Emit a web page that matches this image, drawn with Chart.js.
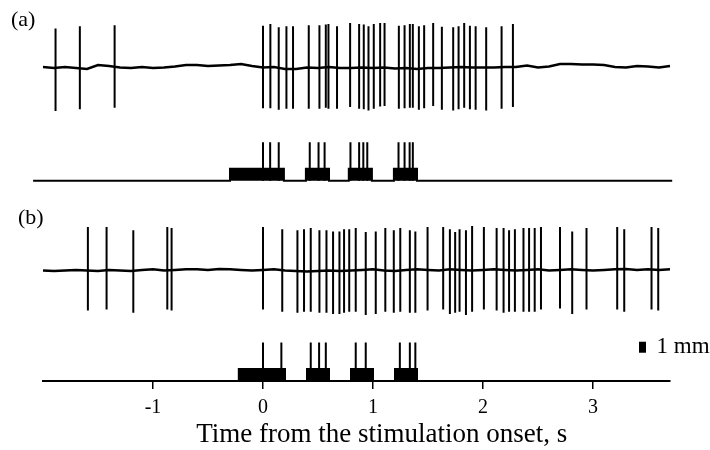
<!DOCTYPE html>
<html>
<head>
<meta charset="utf-8">
<script src="https://cdn.jsdelivr.net/npm/chart.js@4.4.0/dist/chart.umd.min.js"></script>
<style>
html, body { margin: 0; padding: 0; background: #fff; }
#wrap { width: 710px; height: 450px; }
</style>
</head>
<body>
<div id="wrap"><canvas id="spikeChart" width="710" height="450"></canvas></div>
<script>
// Time axis, s
const xTicks = [-1, 0, 1, 2, 3];
const xTitle = 'Time from the stimulation onset, s';

// Panel (a): spike times (s) and spike heights above / below the trace (mm)
const spikeTimesA = [-1.886, -1.665, -1.349, 0.0, 0.067, 0.143, 0.213, 0.273, 0.416, 0.513, 0.571, 0.595,
    0.673, 0.792, 0.874, 0.916, 0.959, 1.007, 1.065, 1.105, 1.235, 1.287, 1.335, 1.362, 1.417, 1.465,
    1.547, 1.626, 1.729, 1.778, 1.829, 1.881, 1.933, 2.029, 2.169, 2.272];
const spikeUpA = [3.5, 3.7, 3.8, 3.75, 3.9, 3.6, 3.7, 3.7, 3.8, 3.8, 3.85, 3.9, 3.7, 4.0, 3.9, 3.85, 3.7, 3.9,
    4.0, 4.0, 3.75, 3.8, 3.9, 3.9, 3.7, 3.8, 4.0, 3.65, 3.6, 3.7, 4.0, 3.75, 3.7, 3.6, 3.7, 3.9];
const spikeDownA = [4.0, 3.85, 3.7, 3.75, 3.75, 3.9, 3.8, 3.8, 3.8, 3.8, 3.7, 3.8, 3.8, 3.65, 3.8, 3.85, 3.95, 3.8,
    3.6, 3.55, 3.8, 3.75, 3.7, 3.7, 3.9, 3.75, 3.55, 3.9, 3.95, 3.85, 3.7, 3.85, 3.9, 3.95, 3.8, 3.65];
// baseline of the recording, sampled every 0.1 s from -2 s (mm)
const traceA = [0, -0.09, 0, -0.1, -0.18, 0.18, 0.09, -0.05, -0.09, 0, -0.09, -0.05, 0.05, 0.18, 0.18, 0.09,
    0.14, 0.18, 0.27, 0.09, -0.05, 0, -0.18, -0.18, -0.05, -0.09, 0, -0.09, -0.09, -0.05, -0.09, -0.05, -0.14,
    -0.09, -0.18, -0.09, -0.09, -0.05, 0, -0.05, -0.05, -0.05, 0, 0, 0.14, -0.05, 0.05, 0.27, 0.27, 0.23, 0.23,
    0.18, 0, -0.05, 0.09, 0.05, -0.05, 0.09];
// stimulation blocks [start, end] and marked responses (s)
const stimBlocksA = [[-0.3, 0.19], [0.39, 0.6], [0.78, 0.99], [1.19, 1.4]];
const stimTicksA = [0.0, 0.065, 0.143, 0.425, 0.505, 0.56, 0.795, 0.874, 0.912, 0.948, 1.232, 1.287, 1.333, 1.362];
const stimSpanA = [-2.09, 3.72];

// Panel (b)
const spikeTimesB = [-1.592, -1.422, -1.179, -0.870, -0.831, 0.0, 0.175, 0.313, 0.373, 0.434, 0.513, 0.577,
    0.637, 0.695, 0.737, 0.784, 0.843, 0.934, 1.025, 1.112, 1.189, 1.248, 1.335, 1.385, 1.496, 1.638, 1.699,
    1.747, 1.787, 1.845, 1.901, 2.008, 2.124, 2.187, 2.237, 2.290, 2.368, 2.419, 2.470, 2.527, 2.700, 2.811,
    2.941, 3.220, 3.284, 3.532, 3.593];
const spikeUpB = [3.9, 3.9, 3.6, 3.9, 3.8, 3.9, 3.7, 3.6, 3.7, 3.8, 3.6, 3.6, 3.5, 3.5, 3.7, 3.7, 3.8, 3.45,
    3.5, 3.8, 3.6, 3.8, 3.6, 3.5, 3.9, 3.9, 3.7, 3.45, 3.7, 3.6, 4.0, 3.9, 3.8, 3.8, 3.6, 3.7, 3.8, 3.8, 3.8,
    3.9, 3.9, 3.5, 3.8, 3.9, 3.7, 3.9, 3.8];
const spikeDownB = [3.7, 3.6, 3.9, 3.6, 3.7, 3.6, 3.8, 3.9, 3.8, 3.8, 3.9, 3.9, 4.0, 4.0, 3.9, 3.8, 3.8, 4.1,
    4.0, 3.8, 3.9, 3.8, 3.9, 3.9, 3.7, 3.6, 4.0, 3.9, 3.8, 4.1, 3.8, 3.6, 3.7, 3.9, 3.8, 3.8, 3.8, 3.8, 3.8,
    3.6, 3.5, 4.0, 3.6, 3.6, 3.8, 3.6, 3.7];
const traceB = [-0.05, -0.09, -0.05, 0, -0.05, -0.09, 0, -0.05, -0.09, 0, 0.05, -0.05, 0, 0.05, 0.05, 0, 0.09,
    0.05, 0, -0.05, 0, 0.05, -0.05, -0.09, -0.14, -0.09, -0.05, -0.09, -0.05, 0, 0.05, -0.05, -0.09, 0, 0.05, 0,
    -0.05, 0.05, 0, -0.05, 0, 0.05, 0, -0.05, 0, 0.05, -0.05, 0, 0.05, 0, -0.05, 0, 0.05, 0.09, 0, 0.05, 0, 0.05];
const stimBlocksB = [[-0.22, 0.2], [0.4, 0.6], [0.8, 1.0], [1.2, 1.4]];
const stimTicksB = [0.0, 0.167, 0.434, 0.51, 0.571, 0.843, 0.934, 1.244, 1.335, 1.385];
const stimSpanB = [-2.0, 3.7];

// scale bar: 1 mm
const scaleBarX = 3.45;
const scaleBarRange = [2.57, 3.57];

// layout (mm above the time axis)
const traceStart = -2.0, traceStep = 0.1;
const baseTraceA = 28.55, baseStimA = 18.2, baseTraceB = 10.1, baseStimB = 0;
const blockHeight = 1.1, stimTickHeight = 3.5;

function spikeLine(times, up, down, base) {
    const pts = [];
    times.forEach((t, i) => {
        pts.push({x: t, y: base - down[i]}, {x: t, y: base + up[i]}, {x: t, y: null});
    });
    return pts;
}

function traceLine(values, base) {
    return values.map((v, i) => ({x: traceStart + i * traceStep, y: base + v}));
}

function stimLine(blocks, span, base) {
    const pts = [{x: span[0], y: base}];
    blocks.forEach(b => {
        pts.push({x: b[0], y: base}, {x: b[0], y: base + blockHeight},
                 {x: b[1], y: base + blockHeight}, {x: b[1], y: base});
    });
    pts.push({x: span[1], y: base});
    return pts;
}

function tickLine(times, base) {
    const pts = [];
    times.forEach(t => {
        pts.push({x: t, y: base}, {x: t, y: base + stimTickHeight}, {x: t, y: null});
    });
    return pts;
}

const lineStyle = {
    borderColor: '#000',
    backgroundColor: '#000',
    pointRadius: 0,
    borderWidth: 2,
    tension: 0,
    clip: false,
    spanGaps: false,
    fill: false
};

// panel letters, axis title and scale bar text
const labelPlugin = {
    id: 'labels',
    afterDraw(chart) {
        const ctx = chart.ctx;
        const xs = chart.scales.x, ys = chart.scales.y;
        ctx.save();
        ctx.fillStyle = '#000';
        ctx.textBaseline = 'middle';
        ctx.font = "22px 'Liberation Serif'";
        ctx.fillText('(a)', 11, 20);
        ctx.fillText('(b)', 18, 218);
        ctx.font = "23px 'Liberation Serif'";
        ctx.fillText('1 mm', xs.getPixelForValue(scaleBarX) + 14,
            ys.getPixelForValue((scaleBarRange[0] + scaleBarRange[1]) / 2));
        ctx.font = "27px 'Liberation Serif'";
        ctx.textAlign = 'center';
        ctx.fillText(xTitle, xs.getPixelForValue(1.08), 435);
        ctx.restore();
    }
};

Chart.defaults.font.family = "'Liberation Serif', 'Times New Roman', serif";
Chart.defaults.color = '#000';

const ctx = document.getElementById('spikeChart');
new Chart(ctx, {
    type: 'line',
    data: {
        datasets: [
            Object.assign({}, lineStyle, {data: traceLine(traceA, baseTraceA), borderWidth: 2.5}),
            Object.assign({}, lineStyle, {data: spikeLine(spikeTimesA, spikeUpA, spikeDownA, baseTraceA)}),
            Object.assign({}, lineStyle, {data: stimLine(stimBlocksA, stimSpanA, baseStimA), fill: {value: baseStimA}}),
            Object.assign({}, lineStyle, {data: tickLine(stimTicksA, baseStimA)}),
            Object.assign({}, lineStyle, {data: traceLine(traceB, baseTraceB), borderWidth: 2.5}),
            Object.assign({}, lineStyle, {data: spikeLine(spikeTimesB, spikeUpB, spikeDownB, baseTraceB)}),
            Object.assign({}, lineStyle, {data: stimLine(stimBlocksB, stimSpanB, baseStimB), fill: {value: baseStimB}}),
            Object.assign({}, lineStyle, {data: tickLine(stimTicksB, baseStimB)}),
            Object.assign({}, lineStyle, {
                data: [{x: scaleBarX, y: scaleBarRange[0]}, {x: scaleBarX, y: scaleBarRange[1]}],
                borderWidth: 7,
                borderCapStyle: 'butt'
            })
        ]
    },
    options: {
        responsive: false,
        animation: false,
        layout: {
            padding: {left: 43, right: 40, top: 7, bottom: 0}
        },
        plugins: {
            legend: {display: false},
            tooltip: {enabled: false}
        },
        scales: {
            x: {
                type: 'linear',
                min: -2,
                max: 3.7,
                afterBuildTicks: function(scale) {
                    scale.ticks = xTicks.map(v => ({value: v}));
                },
                afterFit: function(scale) {
                    scale.height = 69;
                },
                grid: {
                    drawOnChartArea: false,
                    drawTicks: true,
                    tickLength: 8,
                    color: '#000',
                    lineWidth: 1.5
                },
                border: {display: true, color: '#000', width: 2},
                ticks: {
                    font: {size: 20},
                    color: '#000',
                    padding: 7,
                    maxRotation: 0
                }
            },
            y: {
                display: false,
                min: 0,
                max: 34
            }
        }
    },
    plugins: [labelPlugin]
});
</script>
</body>
</html>
